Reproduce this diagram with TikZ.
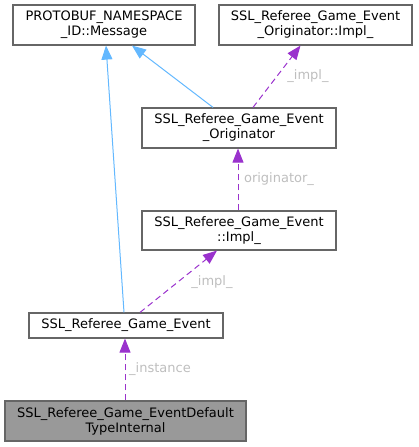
\documentclass[tikz,border=0pt]{standalone}
\usepackage{fontspec}
\setmainfont{DejaVu Sans}
\usetikzlibrary{arrows.meta}
\definecolor{boxline}{HTML}{666666}
\definecolor{inh}{HTML}{63B8FF}
\definecolor{use}{HTML}{9A32CD}
\definecolor{lbl}{HTML}{BEBEBE}
\begin{document}
\begin{tikzpicture}[x=1pt,y=-1pt,
  cls/.style={draw=boxline,line width=1.2pt,fill=white,inner sep=0pt,align=center,
    font=\fontsize{13}{15}\selectfont},
  inherit/.style={draw=inh,line width=1pt,-{Triangle[length=14pt,width=11pt,fill=inh]}},
  usage/.style={draw=use,line width=1pt,dash pattern=on 6pt off 4pt,
    -{Triangle[length=14pt,width=11pt,fill=use]}},
  elabel/.style={text=lbl,font=\fontsize{13}{15}\selectfont,inner sep=0pt}]
\useasboundingbox (0,0) rectangle (419,447);
\node[cls,minimum width=182pt,minimum height=40pt] (proto) at (104,25) {PROTOBUF\_NAMESPACE\\\_ID::Message};
\node[cls,minimum width=193pt,minimum height=40pt] (oimpl) at (315.5,25) {SSL\_Referee\_Game\_Event\\\_Originator::Impl\_};
\node[cls,minimum width=194pt,minimum height=40pt] (orig) at (239,128) {SSL\_Referee\_Game\_Event\\\_Originator};
\node[cls,minimum width=194pt,minimum height=39pt] (eimpl) at (239,230.5) {SSL\_Referee\_Game\_Event\\::Impl\_};
\node[cls,minimum width=194pt,minimum height=25pt] (event) at (126,325.5) {SSL\_Referee\_Game\_Event};
\node[cls,fill={rgb,255:red,153;green,153;blue,153},minimum width=241pt,minimum height=40pt] (deflt) at (125.5,421) {SSL\_Referee\_Game\_EventDefault\\TypeInternal};

\draw[inherit] ([xshift=-2pt]event.north) -- ([xshift=2pt]proto.south);
\draw[inherit] ([xshift=-26pt]orig.north) -- ([xshift=28pt]proto.south);
\draw[usage] ([xshift=14pt]orig.north) -- ([xshift=-15pt]oimpl.south);
\draw[usage] ([xshift=-1pt]eimpl.north) -- ([xshift=-1pt]orig.south);
\draw[usage] ([xshift=14pt]event.north) -- ([xshift=-22pt]eimpl.south);
\draw[usage] ([xshift=-0.5pt]deflt.north) -- ([xshift=-1pt]event.south);

\node[elabel] (l1) at (308,76) {\_impl\_};
\node[elabel] (l2) at (279,179) {originator\_};
\node[elabel] (l3) at (212,282) {\_impl\_};
\node[elabel] (l4) at (160,369) {\_instance};
\end{tikzpicture}
\end{document}
